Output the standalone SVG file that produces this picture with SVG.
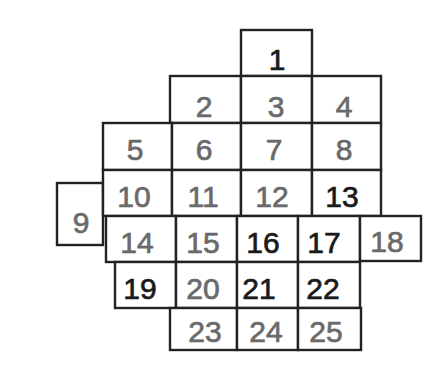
<svg xmlns="http://www.w3.org/2000/svg" width="445" height="383" viewBox="0 0 445 383">
<style>
rect{fill:#fff;stroke:#222;stroke-width:2.4}
text{font-family:"Liberation Sans",Arial,sans-serif;font-size:30px;font-weight:normal;text-anchor:middle;stroke-width:0.7}
.c{fill:#1a1a1a;stroke:#1a1a1a}
.b{fill:#6a6a6a;stroke:#6a6a6a}
</style>
<rect x="0" y="0" width="445" height="383" style="stroke:none"/>
<g id="n1"><rect x="241" y="30" width="71" height="46"/><text class="c" x="277" y="70">1</text></g>
<g id="n2"><rect x="170" y="76" width="71" height="47"/><text class="b" x="204" y="117">2</text></g>
<g id="n3"><rect x="241" y="76" width="71" height="47"/><text class="b" x="276" y="117">3</text></g>
<g id="n4"><rect x="312" y="76" width="69" height="47"/><text class="b" x="344" y="117">4</text></g>
<g id="n5"><rect x="103" y="123" width="69" height="47"/><text class="b" x="135" y="160">5</text></g>
<g id="n6"><rect x="172" y="123" width="69" height="47"/><text class="b" x="204" y="160">6</text></g>
<g id="n7"><rect x="241" y="123" width="71" height="47"/><text class="b" x="274" y="160">7</text></g>
<g id="n8"><rect x="312" y="123" width="69" height="47"/><text class="b" x="344" y="160">8</text></g>
<g id="n9"><rect x="57" y="183" width="46" height="62"/><text class="b" x="81" y="233">9</text></g>
<g id="n10"><rect x="103" y="170" width="69" height="46"/><text class="b" x="134" y="207">10</text></g>
<g id="n11"><rect x="172" y="170" width="69" height="46"/><text class="b" x="203" y="207">11</text></g>
<g id="n12"><rect x="241" y="170" width="71" height="46"/><text class="b" x="272" y="207">12</text></g>
<g id="n13"><rect x="312" y="170" width="69" height="46"/><text class="c" x="342" y="207">13</text></g>
<g id="n14"><rect x="106" y="216" width="70" height="46"/><text class="b" x="137" y="253">14</text></g>
<g id="n15"><rect x="176" y="216" width="61" height="46"/><text class="b" x="203" y="253">15</text></g>
<g id="n16"><rect x="237" y="216" width="61" height="46"/><text class="c" x="263" y="253">16</text></g>
<g id="n17"><rect x="298" y="216" width="62" height="46"/><text class="c" x="324" y="253">17</text></g>
<g id="n18"><rect x="360" y="216" width="61" height="45"/><text class="b" x="387" y="252">18</text></g>
<g id="n19"><rect x="115" y="262" width="61" height="46"/><text class="c" x="140" y="299">19</text></g>
<g id="n20"><rect x="176" y="262" width="61" height="46"/><text class="b" x="203" y="299">20</text></g>
<g id="n21"><rect x="237" y="262" width="61" height="46"/><text class="c" x="259" y="299">21</text></g>
<g id="n22"><rect x="298" y="262" width="62" height="46"/><text class="c" x="323" y="299">22</text></g>
<g id="n23"><rect x="170" y="308" width="67" height="42"/><text class="b" x="205" y="342">23</text></g>
<g id="n24"><rect x="237" y="308" width="61" height="42"/><text class="b" x="266" y="342">24</text></g>
<g id="n25"><rect x="298" y="308" width="63" height="42"/><text class="b" x="326" y="342">25</text></g>
</svg>
